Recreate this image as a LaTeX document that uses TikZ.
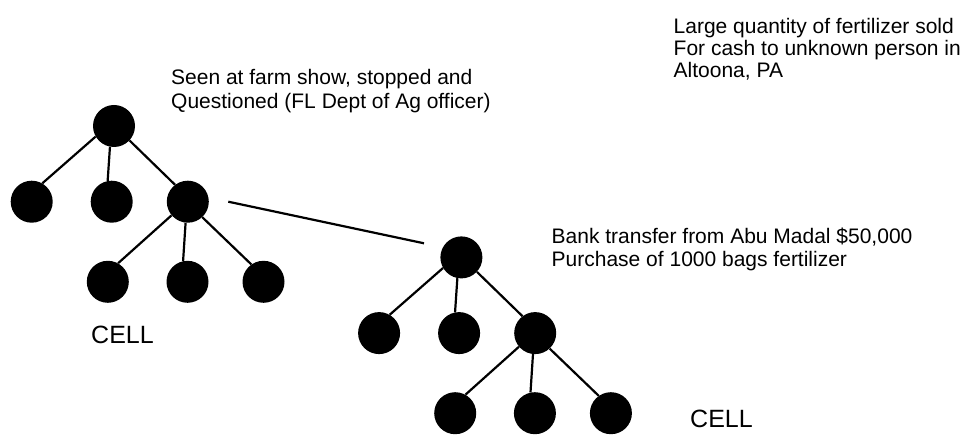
\documentclass[tikz,border=0pt]{standalone}
\usepackage{fontspec}
\setmainfont{Liberation Sans}
\usetikzlibrary{backgrounds}
\tikzset{
  dot/.style={circle, fill=black, draw=none, minimum size=42pt, inner sep=0pt},
  link/.style={line width=2.2pt, draw=black},
  lbl/.style={anchor=north west, inner sep=0pt, align=left},
  celllbl/.style={anchor=base west, inner sep=0pt, font=\fontsize{25}{28}\selectfont}
}
\newcommand\drawcell[3]{%
  \begin{scope}[shift={(#2,#3)}]
    \node[dot] (#1t) at (114,126) {};
    \node[dot] (#1a) at (31.7,201.7) {};
    \node[dot] (#1b) at (111.7,201.7) {};
    \node[dot] (#1c) at (187.8,201.7) {};
    \node[dot] (#1d) at (107.8,281.8) {};
    \node[dot] (#1e) at (187.5,281.8) {};
    \node[dot] (#1f) at (263.5,281.8) {};
  \end{scope}
  \begin{pgfonlayer}{background}
    \draw[link] (#1t.210) -- (#1a.60);
    \draw[link] (#1t.259) -- (#1b.101);
    \draw[link] (#1t.317) -- (#1c.127);
    \draw[link] (#1c.220) -- (#1d.61);
    \draw[link] (#1c.264) -- (#1e.102);
    \draw[link] (#1c.313) -- (#1f.125);
  \end{pgfonlayer}
}
\begin{document}
\begin{tikzpicture}[x=1pt,y=-1pt]
  \useasboundingbox (0,0) rectangle (971,438);
  \drawcell{L}{0}{0}
  \drawcell{R}{347.4}{131.4}
  \coordinate (js) at (228.3,201.7);
  \coordinate (je) at (424,243.3);
  \draw[link] (js) -- (je);
  \node[lbl, font=\fontsize{21}{24}\selectfont] (seen) at (171,68.7)
    {Seen at farm show, stopped and\\Questioned (FL Dept of Ag officer)};
  \node[lbl, font=\fontsize{21}{22}\selectfont] (large) at (673.5,18)
    {Large quantity of fertilizer sold\\For cash to unknown person in\\Altoona, PA};
  \node[lbl, font=\fontsize{21}{23}\selectfont] (bank) at (551.5,228.2)
    {Bank transfer from Abu Madal \$50,000\\Purchase of 1000 bags fertilizer};
  \node[celllbl] (cellA) at (91,343) {CELL};
  \node[celllbl] (cellB) at (690,427) {CELL};
\end{tikzpicture}
\end{document}
